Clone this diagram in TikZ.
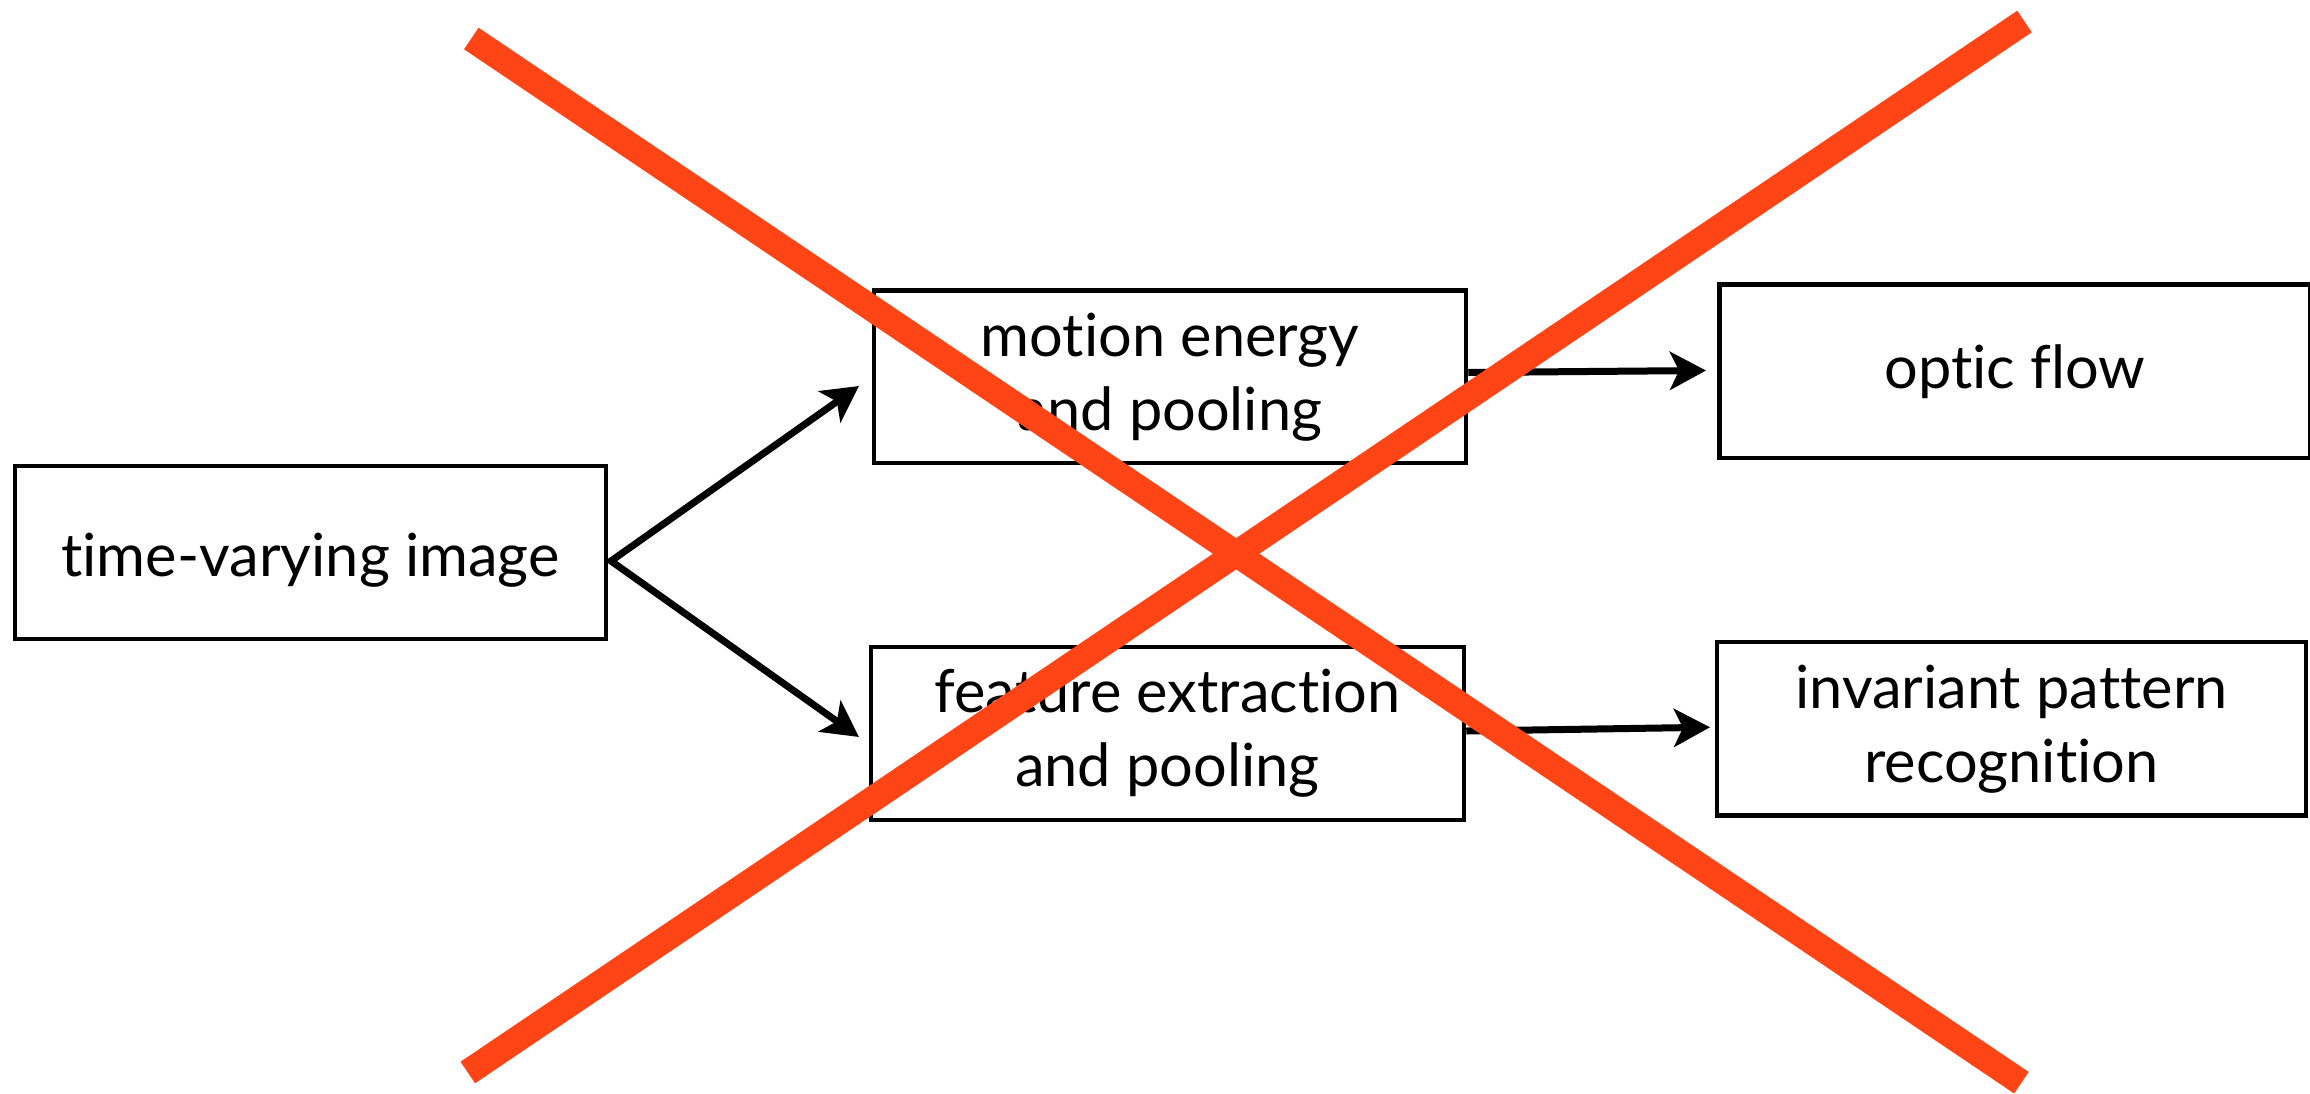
\documentclass[tikz,border=0pt]{standalone}
\usepackage{fontspec}
\setmainfont{Lato}[Ligatures={CommonOff,RareOff,ContextualOff}]
\usetikzlibrary{arrows.meta,calc}
\definecolor{crossred}{RGB}{255,68,21}
\begin{document}
\begin{tikzpicture}[x=1pt,y=-1pt,
  box/.style={draw=black, line width=4.5pt, fill=white, rectangle, inner sep=0pt,
    align=center, font=\fontsize{59.5}{74}\selectfont},
  flow/.style={draw=black, line width=7pt, line join=miter,
    -{Stealth[length=36pt,width=38pt,inset=9pt]}},
  cross/.style={draw=crossred, line width=26pt, line cap=butt}]
\useasboundingbox (0,0) rectangle (2310,1093);

% processing stages
\node[box, minimum width=591pt, minimum height=173pt, text height=47pt, text depth=0pt]
  (tvi) at (310.5,552.5) {time-varying image};
\node[box, minimum width=592pt, minimum height=172.5pt]
  (mot) at (1170,376.75) {motion energy\\and pooling};
\node[box, minimum width=593pt, minimum height=173pt]
  (fea) at (1167.5,733.5) {feature extraction\\and pooling};
\node[box, minimum width=590.5pt, minimum height=173.5pt]
  (opt) at (2014.75,371.25) {optic flow};
\node[box, minimum width=589pt, minimum height=173.5pt]
  (inv) at (2011.5,728.75) {invariant pattern\\recognition};

% connector end points
\coordinate (tvi-out) at ($(tvi.east)+(2.75,8.5)$);
\coordinate (mot-in)  at ($(mot.west)+(-12.75,9.25)$);
\coordinate (fea-in)  at ($(fea.west)+(-9.75,3.5)$);
\coordinate (mot-out) at ($(mot.east)+(0,-4.25)$);
\coordinate (opt-in)  at ($(opt.west)+(-11.25,-0.75)$);
\coordinate (fea-out) at ($(fea.east)+(0,-2.5)$);
\coordinate (inv-in)  at ($(inv.west)+(-4.75,-1.5)$);

% arrows
\draw[flow, {Stealth[length=36pt,width=38pt,inset=9pt]}-{Stealth[length=36pt,width=38pt,inset=9pt]}]
  (mot-in) -- (tvi-out) -- (fea-in);
\draw[flow] (mot-out) -- (opt-in);
\draw[flow] (fea-out) -- (inv-in);

% crossing-out strokes
\coordinate (xa1) at (471.3,38.5);
\coordinate (xa2) at (2021.4,1082.7);
\coordinate (xb1) at (467.8,1072.5);
\coordinate (xb2) at (2024.5,21.5);
\draw[cross] (xa1) -- (xa2);
\draw[cross] (xb1) -- (xb2);
\end{tikzpicture}
\end{document}
